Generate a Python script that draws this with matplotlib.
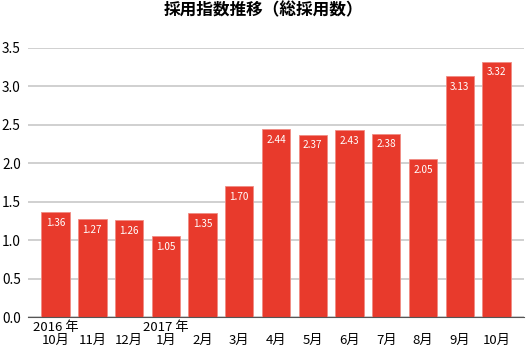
import matplotlib
matplotlib.use('Agg')
import matplotlib.pyplot as plt
import numpy as np

plt.rcParams['font.family'] = ['Noto Sans CJK JP', 'DejaVu Sans']

months = ['10月', '11月', '12月', '1月', '2月', '3月', '4月',
          '5月', '6月', '7月', '8月', '9月', '10月']
years = ['2016 年', '', '', '2017 年', '', '', '', '', '', '', '', '', '']
values = [1.36, 1.27, 1.26, 1.05, 1.35, 1.70, 2.44, 2.37, 2.43, 2.38, 2.05, 3.13, 3.32]

RED = '#e83a2c'

fig = plt.figure(figsize=(5.27, 3.56), dpi=100)
ax = fig.add_axes([0.0526, 0.109, 0.941, 0.757])

x = np.arange(len(values))
bars = ax.bar(x, values, width=0.77, color=RED, edgecolor='#f08c84', linewidth=0.6, zorder=3)

for xi, v in zip(x, values):
    ax.annotate(f'{v:.2f}', (xi, v), xytext=(0, -4), textcoords='offset points',
                ha='center', va='top', color='white', fontsize=7.2, zorder=4)

ax.set_xlim(-0.76, 12.74)
ax.set_ylim(0, 3.5)
yt = np.arange(0, 3.51, 0.5)
ax.set_yticks(yt)
ax.set_yticklabels([f'{t:.1f}' for t in yt], fontsize=9.8)
ax.set_xticks(x)
ax.set_xticklabels([f'{y}\n{m}' for y, m in zip(years, months)], fontsize=9.5, linespacing=1.0)
ax.tick_params(axis='x', length=0, pad=3)
ax.tick_params(axis='y', length=0, pad=5)

ax.grid(axis='y', color='#c8c8c8', linewidth=1.2, zorder=0)
for side in ['top', 'right', 'left']:
    ax.spines[side].set_visible(False)
ax.spines['bottom'].set_color('#555555')
ax.spines['bottom'].set_zorder(5)

fig.suptitle('採用指数推移（総採用数）', fontsize=12, fontweight='bold', x=0.5, y=0.995)

fig.savefig('out.png', dpi=100)
